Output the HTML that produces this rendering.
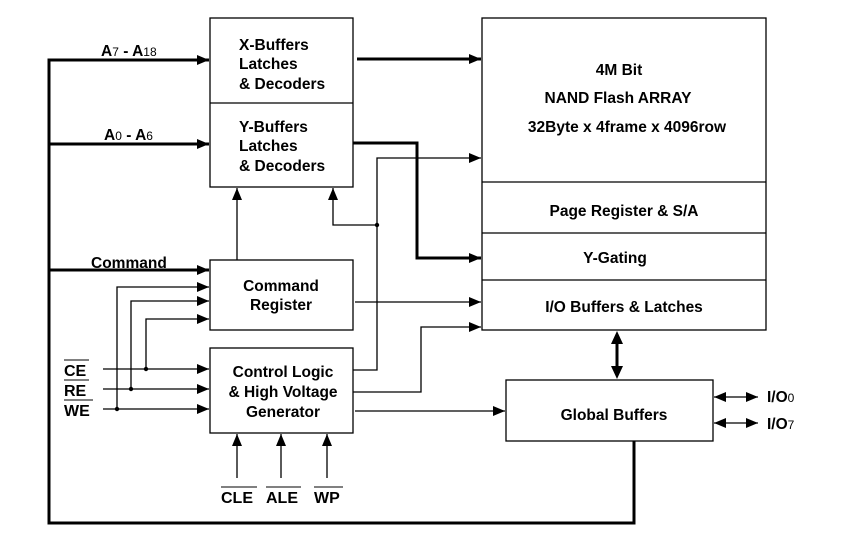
<!DOCTYPE html>
<html><head><meta charset="utf-8"><style>
html,body{margin:0;padding:0;background:#fff;}
svg{display:block;}
text{font-family:"Liberation Sans",Arial,sans-serif;font-weight:bold;fill:#000;}
</style></head><body>
<svg width="845" height="545" viewBox="0 0 845 545" xmlns="http://www.w3.org/2000/svg">
<defs>
<marker id="a" markerWidth="12" markerHeight="10" refX="12" refY="5" orient="auto" markerUnits="userSpaceOnUse"><path d="M0,0 L12,5 L0,10 z" fill="#000"/></marker>
<marker id="as" markerWidth="12" markerHeight="10" refX="0" refY="5" orient="auto" markerUnits="userSpaceOnUse"><path d="M12,0 L0,5 L12,10 z" fill="#000"/></marker>
</defs>
<g fill="none" stroke="#000" stroke-width="1.3">
<rect x="210" y="18" width="143" height="169"/>
<line x1="210" y1="103" x2="353" y2="103"/>
<rect x="210" y="260" width="143" height="70"/>
<rect x="210" y="348" width="143" height="85"/>
<rect x="482" y="18" width="284" height="312"/>
<line x1="482" y1="182" x2="766" y2="182"/>
<line x1="482" y1="233" x2="766" y2="233"/>
<line x1="482" y1="280" x2="766" y2="280"/>
<rect x="506" y="380" width="207" height="61"/>
</g>
<g fill="none" stroke="#000" stroke-width="3">
<polyline points="200,60 49,60 49,523 634,523 634,441"/>
<line x1="49" y1="144" x2="209" y2="144" marker-end="url(#a)"/>
<line x1="49" y1="270" x2="209" y2="270" marker-end="url(#a)"/>
<line x1="49" y1="60" x2="209" y2="60" marker-end="url(#a)"/>
<line x1="357" y1="59" x2="481" y2="59" marker-end="url(#a)"/>
<polyline points="353,143 417,143 417,258 481,258" marker-end="url(#a)"/>
<line x1="617" y1="342" x2="617" y2="368"/>
</g>
<path d="M617,331 L623,344 L611,344 z M617,379 L623,366 L611,366 z" fill="#000"/>
<g fill="none" stroke="#000" stroke-width="1.3">
<polyline points="117,409 117,287 209,287" marker-end="url(#a)"/>
<polyline points="131,389 131,301 209,301" marker-end="url(#a)"/>
<polyline points="146,369 146,319 209,319" marker-end="url(#a)"/>
<line x1="103" y1="369" x2="209" y2="369" marker-end="url(#a)"/>
<line x1="103" y1="389" x2="209" y2="389" marker-end="url(#a)"/>
<line x1="103" y1="409" x2="209" y2="409" marker-end="url(#a)"/>
<line x1="237" y1="260" x2="237" y2="188" marker-end="url(#a)"/>
<polyline points="377,225 333,225 333,188" marker-end="url(#a)"/>
<polyline points="353,370 377,370 377,158 481,158" marker-end="url(#a)"/>
<line x1="355" y1="302" x2="481" y2="302" marker-end="url(#a)"/>
<polyline points="353,392 421,392 421,327 481,327" marker-end="url(#a)"/>
<line x1="355" y1="411" x2="505" y2="411" marker-end="url(#a)"/>
<line x1="237" y1="478" x2="237" y2="434" marker-end="url(#a)"/>
<line x1="281" y1="478" x2="281" y2="434" marker-end="url(#a)"/>
<line x1="327" y1="478" x2="327" y2="434" marker-end="url(#a)"/>
<line x1="714" y1="397" x2="758" y2="397" marker-start="url(#as)" marker-end="url(#a)"/>
<line x1="714" y1="423" x2="758" y2="423" marker-start="url(#as)" marker-end="url(#a)"/>
</g>
<g fill="#000">
<circle cx="377" cy="225" r="2.2"/>
<circle cx="146" cy="369" r="2.2"/>
<circle cx="131" cy="389" r="2.2"/>
<circle cx="117" cy="409" r="2.2"/>
</g>
<g font-size="15.5">
<text x="239" y="50">X-Buffers</text>
<text x="239" y="69">Latches</text>
<text x="239" y="89">&amp; Decoders</text>
<text x="239" y="132">Y-Buffers</text>
<text x="239" y="151">Latches</text>
<text x="239" y="171">&amp; Decoders</text>
<text x="281" y="291" text-anchor="middle">Command</text>
<text x="281" y="310" text-anchor="middle">Register</text>
<text x="283" y="377" text-anchor="middle">Control Logic</text>
<text x="283" y="397" text-anchor="middle">&amp; High Voltage</text>
<text x="283" y="417" text-anchor="middle">Generator</text>
<text x="91" y="268">Command</text>
<text x="101" y="56">A<tspan font-size="12" font-weight="normal">7</tspan> - A<tspan font-size="12" font-weight="normal">18</tspan></text>
<text x="104" y="140">A<tspan font-size="12" font-weight="normal">0</tspan> - A<tspan font-size="12" font-weight="normal">6</tspan></text>
<text x="619" y="75" text-anchor="middle">4M Bit</text>
<text x="618" y="103" text-anchor="middle">NAND Flash ARRAY</text>
<text x="627" y="132" text-anchor="middle">32Byte x 4frame x 4096row</text>
<text x="624" y="216" text-anchor="middle">Page Register &amp; S/A</text>
<text x="615" y="263" text-anchor="middle">Y-Gating</text>
<text x="624" y="312" text-anchor="middle">I/O Buffers &amp; Latches</text>
<text x="614" y="420" text-anchor="middle">Global Buffers</text>
<text x="767" y="402">I/O<tspan font-size="12" font-weight="normal">0</tspan></text>
<text x="767" y="429">I/O<tspan font-size="12" font-weight="normal">7</tspan></text>
</g>
<g font-size="16">
<text x="64" y="376" font-weight="normal">CE</text>
<text x="64" y="396" font-weight="normal">RE</text>
<text x="64" y="416" font-weight="normal">WE</text>
<text x="221" y="503" font-weight="normal">CLE</text>
<text x="266" y="503" font-weight="normal">ALE</text>
<text x="314" y="503" font-weight="normal">WP</text>
</g>
<g stroke="#000" stroke-width="1">
<line x1="64" y1="360" x2="89" y2="360"/>
<line x1="64" y1="380" x2="89" y2="380"/>
<line x1="64" y1="400" x2="93" y2="400"/>
<line x1="221" y1="487" x2="257" y2="487"/>
<line x1="266" y1="487" x2="301" y2="487"/>
<line x1="314" y1="487" x2="343" y2="487"/>
</g>
</svg>
</body></html>
